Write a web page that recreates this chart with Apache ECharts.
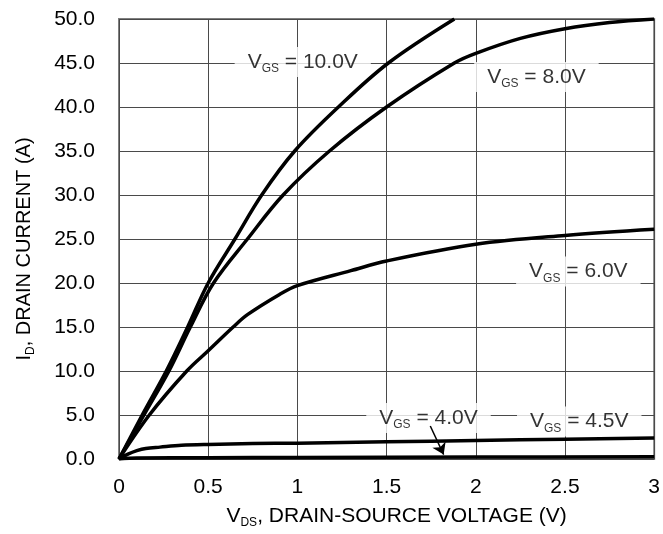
<!DOCTYPE html>
<html>
<head>
<meta charset="utf-8">
<title>Output characteristics</title>
<script src="https://cdn.jsdelivr.net/npm/echarts@6/dist/echarts.min.js"></script>
<style>
  html, body { margin: 0; padding: 0; background: #fff; }
  #chart { width: 663px; height: 534px; }
</style>
</head>
<body>
<div id="chart"></div>
<script>
// Drain current I_D (A) versus drain-source voltage V_DS (V), one curve per gate voltage
const curve10V = [[0,0],[0.13,5],[0.265,10],[0.385,15],[0.5,20],[0.65,25],[0.8,30],[0.985,35],[1.23,40],[1.51,45],[1.88,50]];
const curve8V  = [[0,0],[0.14,5],[0.28,10],[0.40,15],[0.53,20],[0.72,25],[0.92,30],[1.18,35],[1.5,40],[1.88,45],[2.0,46.1],[2.25,47.8],[2.5,48.9],[2.75,49.6],[3.0,50.0]];
const curve6V  = [[0,0],[0.17,5],[0.38,10],[0.5,12.3],[0.64,15],[0.72,16.4],[0.9,18.7],[1.0,19.7],[1.3,21.4],[1.5,22.5],[2.0,24.4],[2.5,25.4],[3.0,26.1]];
const curve45V = [[0,0],[0.05,0.55],[0.1,0.95],[0.15,1.2],[0.23,1.35],[0.35,1.55],[0.5,1.65],[0.75,1.75],[1.0,1.8],[1.5,1.95],[2.0,2.1],[2.5,2.25],[3.0,2.4]];
const curve4V  = [[0,0],[0.1,0.1],[0.5,0.15],[1.0,0.18],[2.0,0.22],[3.0,0.25]];

// Curve captions: [V_DS, I_D, gate voltage text]
const captions = [
  [1.03, 45.1, '10.0V'],
  [2.34, 43.4, '8.0V'],
  [2.575, 21.3, '6.0V'],
  [1.735, 4.65, '4.0V'],
  [2.58, 4.25, '4.5V']
];
// Pointer from the 4.0V caption down to its curve
const pointer4V = [[1.745, 3.75], [1.82, 0.5]];

const xTicks = { min: 0, max: 3, interval: 0.5 };
const yTicks = { min: 0, max: 50, interval: 5 };

const FONT = "'Liberation Sans', Arial, sans-serif";

const chart = echarts.init(document.getElementById('chart'), null, { renderer: 'canvas' });

function curveSeries(name, data) {
  return {
    name: name,
    type: 'line',
    data: data,
    smooth: 0.35,
    showSymbol: false,
    symbol: 'none',
    z: 3,
    lineStyle: { color: '#000', width: 3.5 },
    emphasis: { disabled: true }
  };
}

const richText = function (size) {
  return {
    m: { fontSize: size, fontFamily: FONT, color: '#000', lineHeight: 26 },
    s: { fontSize: 12, fontFamily: FONT, color: '#000', lineHeight: 26, padding: [14, 0, 0, 0] }
  };
};

const option = {
  animation: false,
  backgroundColor: '#fff',
  textStyle: { fontFamily: FONT },
  grid: {
    left: 119, right: 7, top: 19, bottom: 67,
    show: true, borderColor: '#7f7f7f', borderWidth: 2, backgroundColor: 'transparent'
  },
  xAxis: {
    type: 'value',
    min: xTicks.min, max: xTicks.max, interval: xTicks.interval,
    axisLine: { show: false },
    axisTick: { show: false },
    splitLine: { show: true, lineStyle: { color: '#4a4a4a', width: 1 } },
    axisLabel: { color: '#000', fontSize: 21, fontFamily: FONT, margin: 18 },
    name: '{m|V}{s|DS}{m|, DRAIN-SOURCE VOLTAGE (V)}',
    nameLocation: 'middle',
    nameGap: 44,
    nameTextStyle: { padding: [0, 0, 0, 20], rich: richText(21) }
  },
  yAxis: {
    type: 'value',
    min: yTicks.min, max: yTicks.max, interval: yTicks.interval,
    axisLine: { show: false },
    axisTick: { show: false },
    splitLine: { show: true, lineStyle: { color: '#4a4a4a', width: 1 } },
    axisLabel: {
      color: '#000', fontSize: 21, fontFamily: FONT, margin: 24,
      formatter: function (v) { return v.toFixed(1); }
    },
    name: '{m|I}{s|D}{m|, DRAIN CURRENT (A)}',
    nameLocation: 'middle',
    nameGap: 82,
    nameRotate: 90,
    nameTextStyle: { padding: [0, 20, 0, 0], rich: richText(20) }
  },
  series: [
    curveSeries('VGS = 10.0V', curve10V),
    curveSeries('VGS = 8.0V', curve8V),
    curveSeries('VGS = 6.0V', curve6V),
    curveSeries('VGS = 4.5V', curve45V),
    curveSeries('VGS = 4.0V', curve4V),
    {
      name: 'captions',
      type: 'scatter',
      z: 1,
      symbol: 'circle',
      symbolSize: 1,
      itemStyle: { color: 'rgba(0,0,0,0)' },
      emphasis: { disabled: true },
      data: captions.map(function (c) { return { value: [c[0], c[1]], gate: c[2] }; }),
      label: {
        show: true,
        position: 'inside',
        backgroundColor: '#fff',
        padding: [2, 13, 2, 13],
        formatter: function (p) { return '{m|V}{s|GS}{m| = ' + p.data.gate + '}'; },
        rich: richText(21)
      }
    },
    {
      name: 'pointer',
      type: 'lines',
      coordinateSystem: 'cartesian2d',
      z: 4,
      symbol: ['none', 'arrow'],
      symbolSize: 11,
      lineStyle: { color: '#000', width: 1.5, opacity: 1 },
      emphasis: { disabled: true },
      data: [{ coords: pointer4V }]
    }
  ]
};

chart.setOption(option);
</script>
</body>
</html>
